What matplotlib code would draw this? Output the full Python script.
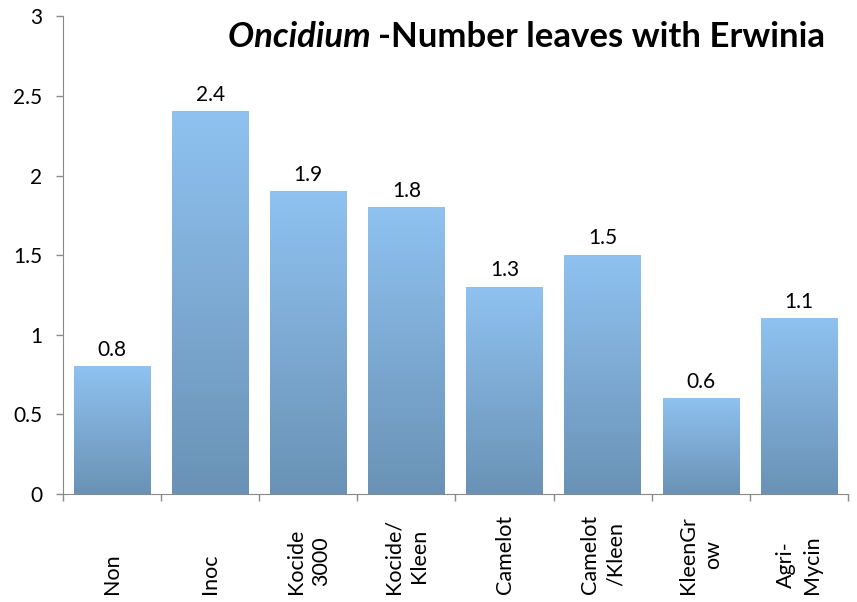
import numpy as np
import matplotlib
matplotlib.use('Agg')
import matplotlib.pyplot as plt
from matplotlib.colors import LinearSegmentedColormap
from matplotlib.transforms import blended_transform_factory

plt.rcParams['font.family'] = ['Lato', 'DejaVu Sans']

cats = ['Non', 'Inoc', 'Kocide\n3000', 'Kocide/\nKleen', 'Camelot',
        'Camelot\n/Kleen', 'KleenGr\now', 'Agri-\nMycin']
vals = [0.8, 2.4, 1.9, 1.8, 1.3, 1.5, 0.6, 1.1]
yticks = [0, 0.5, 1, 1.5, 2, 2.5, 3]
ylabels = ['0', '0.5', '1', '1.5', '2', '2.5', '3']

fig = plt.figure(figsize=(8.57, 6.02), dpi=100)
ax = fig.add_axes([0.0735, 0.1794, 0.916, 0.7932])

x = np.arange(len(cats))
bars = ax.bar(x, vals, width=0.78, color='none', edgecolor='none')

# vertical gradient in each bar, light at top
cmap = LinearSegmentedColormap.from_list('g', ['#6a92b6', '#8fc2f0'])
grad = np.linspace(0, 1, 256).reshape(-1, 1)
for b in bars:
    x0, y0 = b.get_x(), b.get_y()
    w, h = b.get_width(), b.get_height()
    ax.imshow(grad, cmap=cmap, origin='lower', aspect='auto',
              extent=(x0, x0 + w, y0, y0 + h), zorder=2, interpolation='bicubic')

for xi, v in zip(x, vals):
    ax.annotate(f'{v:g}', xy=(xi, v), xytext=(0, 5), textcoords='offset points',
                ha='center', va='bottom', fontsize=15)

ax.set_xlim(-0.5, len(cats) - 0.5)
ax.set_ylim(0, 3)
ax.set_yticks(yticks)
ax.set_yticklabels(ylabels, fontsize=15)
ax.set_xticks(np.arange(len(cats) + 1) - 0.5)
ax.set_xticklabels([])

for s in ['top', 'right']:
    ax.spines[s].set_visible(False)
for s in ['left', 'bottom']:
    ax.spines[s].set_color('#898989')
ax.tick_params(axis='both', colors='#898989', length=5, width=1, direction='out')
ax.tick_params(axis='y', labelcolor='black', pad=10)

trans = blended_transform_factory(ax.transData, ax.transAxes)
for xi, c in zip(x, cats):
    ax.text(xi, -0.2085, c, transform=trans, rotation=90, ha='center', va='bottom',
            multialignment='center', fontsize=15.5, linespacing=1.35)

t1 = ax.text(0.9707, 0.936, '-Number leaves with Erwinia', transform=ax.transAxes,
             ha='right', va='baseline', fontsize=25, fontweight='bold')
ax.annotate('Oncidium ', xy=(0, 0), xycoords=t1, ha='right', va='bottom',
            fontsize=25, fontweight='bold', fontstyle='italic')

fig.savefig('out.png', dpi=100)
